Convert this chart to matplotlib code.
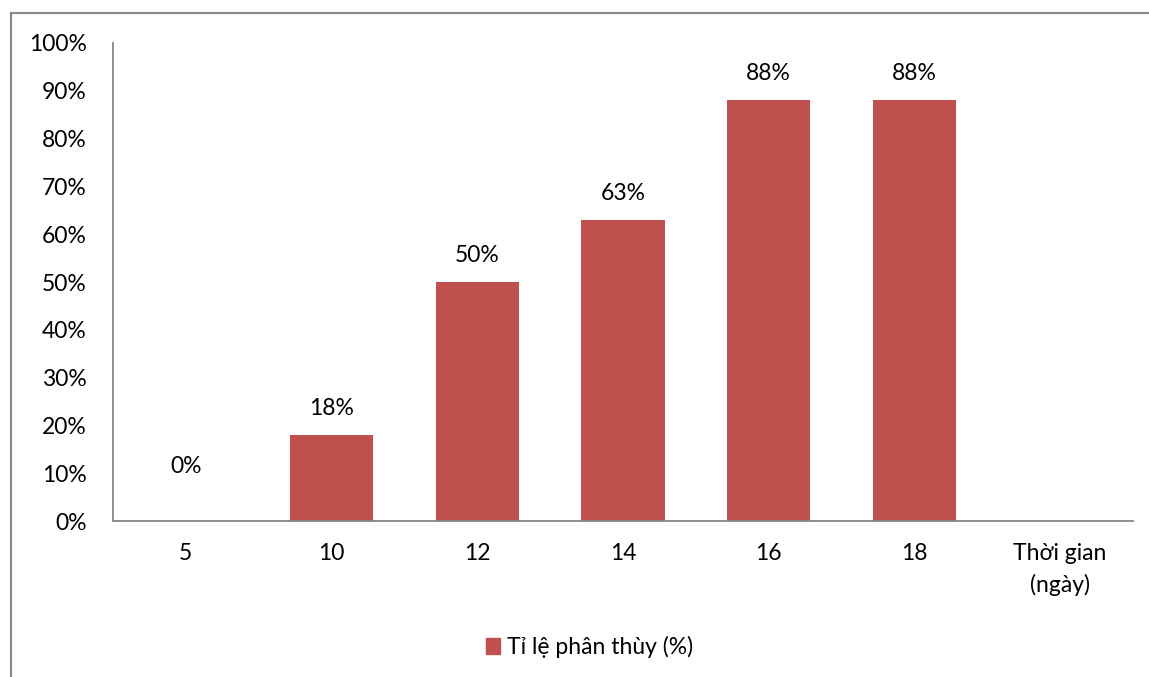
import matplotlib.pyplot as plt
from matplotlib.lines import Line2D
from matplotlib.patches import Patch

# Data
categories = ['5', '10', '12', '14', '16', '18', 'Thời gian\n(ngày)']
values = [0, 18, 50, 63, 88, 88]
labels = ['0%', '18%', '50%', '63%', '88%', '88%']
series_name = 'Tỉ lệ phân thùy (%)'
bar_color = '#C0504D'
axis_color = '#868686'

plt.rcParams['font.family'] = ['Lato', 'DejaVu Sans']
plt.rcParams['font.size'] = 16.5

fig = plt.figure(figsize=(11.49, 6.77), dpi=100)
ax = fig.add_axes([0.0983, 0.2304, 0.8878, 0.7061])

x = list(range(len(values)))
bars = ax.bar(x, [v / 100 for v in values], width=0.57, color=bar_color)

for xi, v, lab in zip(x, values, labels):
    off = 39 if v == 0 else 19
    ax.annotate(lab, (xi, v / 100), xytext=(0, off), textcoords='offset points',
                ha='center', va='center', color='#000000')

ax.set_xlim(-0.5, len(categories) - 0.5)
ax.set_ylim(0, 1)
ax.set_yticks([i / 10 for i in range(11)])
ax.set_yticklabels([f'{i * 10}%' for i in range(11)])
ax.set_xticks(range(len(categories)))
ax.set_xticklabels(categories, linespacing=1.55)
ax.tick_params(axis='both', length=0, colors='#000000')
ax.tick_params(axis='x', pad=16)
ax.tick_params(axis='y', pad=19)
for s in ['top', 'right']:
    ax.spines[s].set_visible(False)
for s in ['left', 'bottom']:
    ax.spines[s].set_color(axis_color)
    ax.spines[s].set_linewidth(1.3)

fig.legend(handles=[Patch(color=bar_color, label=series_name)],
           loc='center', bbox_to_anchor=(0.513, 0.044), frameon=False,
           handlelength=0.6, handleheight=0.7, handletextpad=0.3)

# chart area border (left and top visible)
fig.add_artist(Line2D([0.0096, 0.0096], [0, 0.981], transform=fig.transFigure,
                      color='#888888', lw=1.5))
fig.add_artist(Line2D([0.0096, 1.0], [0.981, 0.981], transform=fig.transFigure,
                      color='#888888', lw=1.5))

fig.savefig('out.png', dpi=100)
